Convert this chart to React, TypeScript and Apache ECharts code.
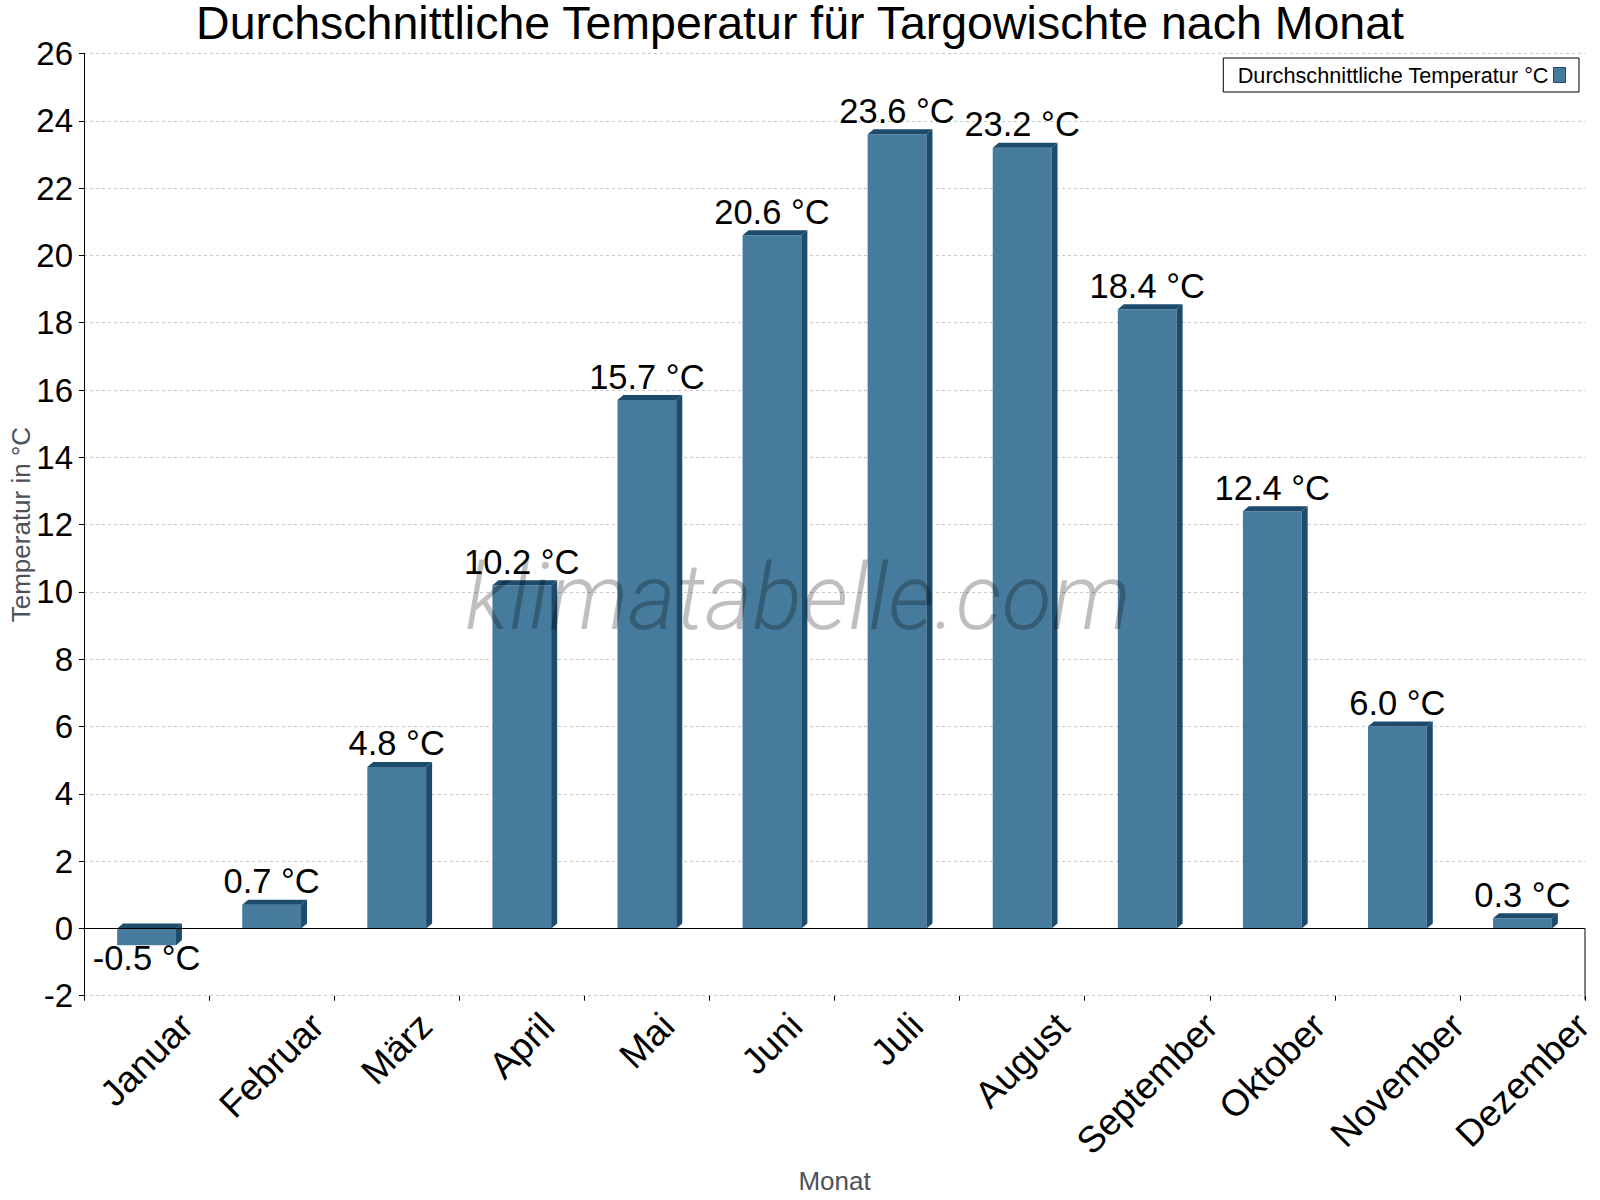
import React, { useEffect, useRef } from 'react';
import * as echarts from 'echarts';

const months = ['Januar', 'Februar', 'März', 'April', 'Mai', 'Juni', 'Juli', 'August', 'September', 'Oktober', 'November', 'Dezember'];
const temps = [-0.5, 0.7, 4.8, 10.2, 15.7, 20.6, 23.6, 23.2, 18.4, 12.4, 6.0, 0.3];
const seriesName = 'Durchschnittliche Temperatur °C';
const titleText = 'Durchschnittliche Temperatur für Targowischte nach Monat';

const FONT = '"Liberation Sans", Arial, sans-serif';
const FRONT = '#467b9d';
const DARK = '#1c4b6c';
const MONTH_FONT = 37;

// rotated month labels: centred on the category, pushed down by their length
const measure = (s: string) => {
  const ctx = document.createElement('canvas').getContext('2d');
  if (!ctx) return s.length * 18;
  ctx.font = `${MONTH_FONT}px "Liberation Sans"`;
  return ctx.measureText(s).width;
};

const App: React.FC = () => {
  const chartRef = useRef<HTMLDivElement>(null);

  useEffect(() => {
    document.body.style.margin = '0';
    if (!chartRef.current) return;
    const chart = echarts.init(chartRef.current, undefined, { renderer: 'svg' });

    const rich: Record<string, any> = {};
    months.forEach((m, i) => {
      const d = measure(m) * 0.3535 + 16;
      const p = d * 1.414;
      rich['m' + i] = { fontSize: MONTH_FONT, fontFamily: FONT, color: '#000', padding: [p, p, 0, 0] };
    });

    const option: echarts.EChartsOption = {
      animation: false,
      backgroundColor: '#fff',
      textStyle: { fontFamily: FONT },
      title: {
        text: titleText,
        left: 'center',
        top: 0,
        padding: 0,
        textStyle: { fontSize: 46.5, lineHeight: 45, fontWeight: 'normal', color: '#000', fontFamily: FONT },
      },
      legend: {
        right: 21,
        top: 58,
        align: 'right',
        borderColor: '#000',
        borderWidth: 1,
        padding: [6, 13, 6, 14],
        itemWidth: 12,
        itemHeight: 15,
        textStyle: { fontSize: 21.7, color: '#000', fontFamily: FONT },
        data: [{ name: seriesName, icon: 'rect', itemStyle: { color: FRONT, borderColor: DARK, borderWidth: 1 } }],
      },
      grid: { left: 84, right: 15, top: 53.5, bottom: 204.3, outerBoundsMode: 'none' } as any,
      xAxis: {
        type: 'category',
        data: months,
        name: 'Monat',
        nameLocation: 'middle',
        nameGap: 172,
        nameTextStyle: { fontSize: 26, color: '#4d5259', fontFamily: FONT },
        axisLine: { show: false, onZero: false },
        axisTick: { show: true, length: 5, lineStyle: { color: '#000' } },
        axisLabel: {
          interval: 0,
          rotate: 45,
          margin: 8,
          align: 'center',
          verticalAlign: 'middle',
          fontSize: MONTH_FONT,
          color: '#000',
          formatter: (v: string) => `{m${months.indexOf(v)}|${v}}`,
          rich,
        },
        splitLine: { show: false },
      },
      yAxis: {
        type: 'value',
        min: -2,
        max: 26,
        interval: 2,
        name: 'Temperatur in °C',
        nameLocation: 'middle',
        nameGap: 50,
        nameMoveOverlap: false,
        nameTextStyle: { fontSize: 26, color: '#4d5259', fontFamily: FONT },
        axisLine: { show: true, lineStyle: { color: '#000' } },
        axisTick: { show: true, length: 5, lineStyle: { color: '#000' } },
        axisLabel: { fontSize: 33, color: '#000', margin: 11 },
        splitLine: { show: true, lineStyle: { color: '#c8c8c8', type: [3, 3], width: 1 } },
      } as any,
      series: [
        {
          name: seriesName,
          type: 'custom',
          itemStyle: { color: FRONT },
          data: temps.map((t, i) => [i, t]),
          encode: { x: 0, y: 1 },
          renderItem: (params: any, api: any) => {
            const idx = api.value(0);
            const v = api.value(1);
            const pTop = api.coord([idx, Math.max(v, 0)]);
            const pBot = api.coord([idx, Math.min(v, 0)]);
            const bw = api.size([1, 0])[0] * 0.47;
            const l = pTop[0] - bw / 2;
            const r = pTop[0] + bw / 2;
            const t = pTop[1];
            const b = pBot[1];
            const dx = 6;
            const dy = 5;
            const label = `${v.toFixed(1)} °C`;
            return {
              type: 'group',
              children: [
                { type: 'rect', shape: { x: l, y: t, width: bw, height: b - t }, style: { fill: FRONT } },
                { type: 'polygon', shape: { points: [[l, t], [l + dx, t - dy], [r + dx, t - dy], [r, t]] }, style: { fill: DARK } },
                { type: 'polygon', shape: { points: [[r, t], [r + dx, t - dy], [r + dx, b - dy], [r, b]] }, style: { fill: DARK } },
                {
                  type: 'text',
                  style: {
                    text: label,
                    x: pTop[0],
                    y: v >= 0 ? t - dy - 1 : b - 5,
                    align: 'center',
                    verticalAlign: v >= 0 ? 'bottom' : 'top',
                    fontSize: 34.5,
                    fontFamily: FONT,
                    fill: '#000',
                  },
                },
              ],
            };
          },
          markLine: {
            silent: true,
            symbol: 'none',
            label: { show: false },
            lineStyle: { color: '#000', type: 'solid', width: 1 },
            data: [{ yAxis: 0 }],
          },
        } as any,
      ],
      graphic: [
        {
          id: 'watermark',
          type: 'text',
          x: 798,
          y: 597,
          z: 100,
          style: {
            text: 'klimatabelle.com',
            x: 0,
            y: 0,
            align: 'center',
            verticalAlign: 'middle',
            fontSize: 92,
            fontStyle: 'italic',
            fontWeight: 300,
            fontFamily: 'Roboto, "Open Sans", sans-serif',
            fill: 'rgba(0,0,0,0.25)',
          },
        },
      ],
    };

    chart.setOption(option);

    // short right border below the zero line
    const y0 = chart.convertToPixel({ yAxisIndex: 0 }, 0) as number;
    const yMin = chart.convertToPixel({ yAxisIndex: 0 }, -2) as number;
    const xr = chart.getWidth() - 15;
    chart.setOption({
      graphic: [
        { id: 'watermark' },
        { id: 'rightEdge', type: 'line', shape: { x1: xr, y1: y0, x2: xr, y2: yMin + 4 }, style: { stroke: '#000', lineWidth: 1 } },
      ],
    });

    return () => {
      chart.dispose();
    };
  }, []);

  return <div ref={chartRef} style={{ width: 1600, height: 1200 }} />;
};

export default App;
